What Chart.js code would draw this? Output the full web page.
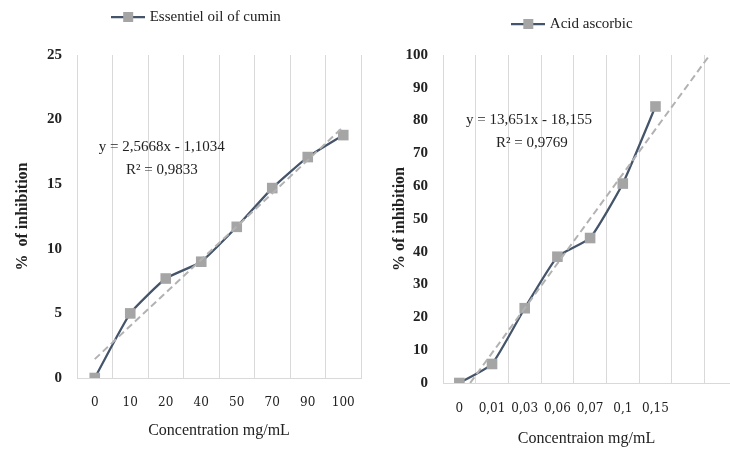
<!DOCTYPE html>
<html>
<head>
<meta charset="utf-8">
<script src="https://cdn.jsdelivr.net/npm/chart.js@4.4.1/dist/chart.umd.min.js"></script>
<style>
  html, body { margin: 0; padding: 0; background: #fff; }
  #wrap { position: relative; width: 730px; height: 450px; }
  canvas { position: absolute; top: 0; }
  #c1 { left: 0; }
  #c2 { left: 365px; }
</style>
</head>
<body>
<div id="wrap">
  <canvas id="c1" width="365" height="450"></canvas>
  <canvas id="c2" width="365" height="450"></canvas>
</div>
<script>
// left chart: essential oil of cumin
const cuminLabels = ["0", "10", "20", "40", "50", "70", "90", "100"];
const cuminValues = [0, 5.0, 7.7, 9.0, 11.7, 14.7, 17.1, 18.8];
const cuminTrendX = [1, 8];
const cuminTrendY = [1.46, 19.43];

// right chart: ascorbic acid
const acidLabels = ["0", "0,01", "0,03", "0,06", "0,07", "0,1", "0,15", ""];
const acidValues = [0, 5.8, 22.8, 38.5, 44.2, 60.8, 84.3];
const acidTrendX = [1.33, 8.66];
const acidTrendY = [0, 100];

const LINE = "#44546A";
const MARK = "#A5A5A5";
const TREND = "#B2B2B2";
const GRID = "#D9D9D9";
const TXT = "#222222";

// legend symbol: line with a square marker
function legendSymbol() {
  const c = document.createElement("canvas");
  c.width = 34; c.height = 12;
  const g = c.getContext("2d");
  g.strokeStyle = LINE; g.lineWidth = 2.25;
  g.beginPath(); g.moveTo(0, 6); g.lineTo(34, 6); g.stroke();
  g.fillStyle = MARK; g.fillRect(12, 1, 10, 10);
  return c;
}
const symbol = legendSymbol();

// legend tweaks: fixed box height (gap below) and horizontal shift
const legendTweaks = {
  c1: { height: 55, dx: 17 },
  c2: { height: 55, dx: 26 }
};
const LegendEl = Chart.Legend._element;
const fitLegend = LegendEl.prototype.fit;
LegendEl.prototype.fit = function () {
  fitLegend.call(this);
  const t = legendTweaks[this.chart.canvas.id];
  if (t) this.height = t.height;
};
const drawLegend = LegendEl.prototype.draw;
LegendEl.prototype.draw = function () {
  const t = legendTweaks[this.chart.canvas.id];
  this.ctx.save();
  if (t) this.ctx.translate(t.dx, 0);
  drawLegend.call(this);
  this.ctx.restore();
};

// trendline equation text
const equationPlugin = {
  id: "equation",
  afterDatasetsDraw(chart, args, opts) {
    const { ctx, scales } = chart;
    ctx.save();
    ctx.font = "15px 'Liberation Serif'";
    ctx.fillStyle = TXT;
    ctx.textAlign = "center";
    ctx.textBaseline = "middle";
    opts.lines.forEach(l => {
      ctx.fillText(l.text, scales.x.getPixelForValue(l.x), scales.y.getPixelForValue(l.y));
    });
    ctx.restore();
  }
};

function makeChart(id, cfg) {
  const points = cfg.values.map((v, i) => ({ x: i + 1, y: v }));
  const trend = cfg.trendX.map((x, i) => ({ x, y: cfg.trendY[i] }));

  return new Chart(document.getElementById(id), {
    type: "line",
    data: {
      datasets: [
        {
          label: cfg.name,
          data: points,
          borderColor: LINE,
          borderWidth: 2.25,
          tension: 0.15,
          pointStyle: "rect",
          pointRadius: 7.5,
          pointBackgroundColor: MARK,
          pointBorderWidth: 0,
          order: 1
        },
        {
          label: "trend",
          data: trend,
          borderColor: TREND,
          borderWidth: 2,
          borderDash: [7, 4],
          pointRadius: 0,
          order: 0
        }
      ]
    },
    options: {
      responsive: false,
      animation: false,
      layout: { autoPadding: false, padding: { left: 0, right: cfg.padRight, top: 0, bottom: 0 } },
      plugins: {
        tooltip: { enabled: false },
        legend: {
          position: "top",
          labels: {
            usePointStyle: true,
            pointStyleWidth: 28,
            padding: cfg.legendPad,
            color: TXT,
            font: { family: "Liberation Serif", size: 15 },
            generateLabels: () => [{
              text: cfg.name,
              pointStyle: symbol,
              datasetIndex: 0,
              lineWidth: 0,
              hidden: false,
              fontColor: TXT
            }]
          }
        },
        equation: { lines: cfg.equation }
      },
      scales: {
        x: {
          type: "linear",
          min: 0.5,
          max: cfg.xMax,
          afterBuildTicks: s => { s.ticks = cfg.labels.map((l, i) => ({ value: i + 1 })); },
          afterFit: s => { s.height = cfg.xHeight; s.paddingLeft = 0; s.paddingRight = 0; },
          ticks: {
            autoSkip: false,
            maxRotation: 0,
            minRotation: 0,
            padding: cfg.xTickPad,
            color: TXT,
            font: { family: "DejaVu Serif", size: 12 },
            callback: (v, i) => cfg.labels[i]
          },
          grid: { color: GRID, offset: true, drawTicks: false, lineWidth: 1 },
          border: { color: GRID, width: 1 },
          title: {
            display: true,
            text: cfg.xTitle,
            color: TXT,
            font: { family: "Liberation Serif", size: 16 },
            padding: { top: 0, bottom: cfg.xTitlePad }
          }
        },
        y: {
          min: 0,
          max: cfg.yMax,
          afterFit: s => { s.width = cfg.yWidth; s.paddingTop = 0; s.paddingBottom = 0; },
          ticks: {
            stepSize: cfg.yStep,
            padding: 7,
            color: TXT,
            font: { family: "Liberation Serif", size: 15, weight: "bold" }
          },
          grid: { display: false },
          border: { display: false },
          title: {
            display: true,
            text: cfg.yTitle,
            color: TXT,
            font: { family: "Liberation Serif", size: 16, weight: "bold" },
            padding: { top: cfg.yTitlePad, bottom: 0 }
          }
        }
      }
    },
    plugins: [equationPlugin]
  });
}

makeChart("c1", {
  name: "Essentiel oil of cumin",
  labels: cuminLabels,
  values: cuminValues,
  trendX: cuminTrendX,
  trendY: cuminTrendY,
  xMax: 8.5,
  yMax: 25,
  yStep: 5,
  padRight: 4,
  legendPad: 9.5,
  xHeight: 72,
  xTickPad: 18,
  xTitlePad: 10,
  yWidth: 77,
  yTitlePad: 13,
  xTitle: "Concentration mg/mL",
  yTitle: "%  of inhibition",
  equation: [
    { text: "y = 2,5668x - 1,1034", x: 2.89, y: 17.9 },
    { text: "R² = 0,9833", x: 2.89, y: 16.1 }
  ]
});

makeChart("c2", {
  name: "Acid ascorbic",
  labels: acidLabels,
  values: acidValues,
  trendX: acidTrendX,
  trendY: acidTrendY,
  xMax: 9.28,
  yMax: 100,
  yStep: 10,
  padRight: 0,
  legendPad: 16.5,
  xHeight: 67,
  xTickPad: 19,
  xTitlePad: 2,
  yWidth: 78,
  yTitlePad: 25,
  xTitle: "Concentraion mg/mL",
  yTitle: "% of inhibition",
  equation: [
    { text: "y = 13,651x - 18,155", x: 3.13, y: 80.2 },
    { text: "R² = 0,9769", x: 3.22, y: 73.2 }
  ]
});
</script>
</body>
</html>
